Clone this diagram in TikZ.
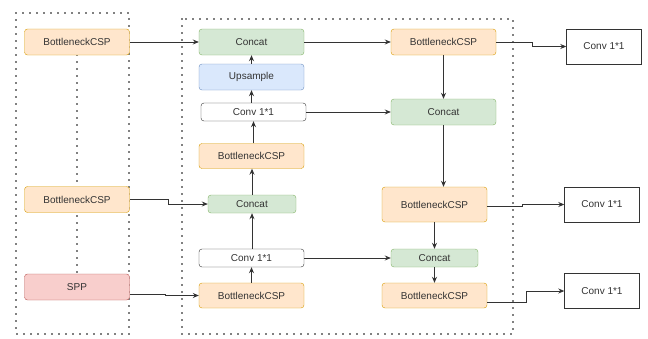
\documentclass[tikz,border=0pt]{standalone}
\usepackage{fontspec}
\setmainfont{Liberation Sans}
\usetikzlibrary{arrows.meta}
\definecolor{cspfill}{HTML}{FFE6CC}\definecolor{cspline}{HTML}{D79B00}
\definecolor{catfill}{HTML}{D5E8D4}\definecolor{catline}{HTML}{82B366}
\definecolor{upfill}{HTML}{DAE8FC}\definecolor{upline}{HTML}{6C8EBF}
\definecolor{sppfill}{HTML}{F8CECC}\definecolor{sppline}{HTML}{B85450}
\definecolor{ink}{HTML}{333333}

\begin{document}
\begin{tikzpicture}
  [x=1pt, y=-1pt, >={Stealth[length=6pt,width=5pt]},
   every node/.style={draw, rounded corners=3pt, inner sep=0pt, text=ink,
                      font=\fontsize{10}{12}\selectfont, minimum width=105pt, minimum height=26pt},
   csp/.style={fill=cspfill, draw=cspline},
   concat/.style={fill=catfill, draw=catline},
   upsample/.style={fill=upfill, draw=upline},
   sppbox/.style={fill=sppfill, draw=sppline},
   convbox/.style={fill=white, draw=ink, minimum height=18pt},
   outbox/.style={fill=white, draw=ink, rounded corners=0pt, minimum width=75pt, minimum height=35pt},
   arr/.style={->, draw=ink, line width=0.8pt},
   dotbox/.style={draw=black, line width=1.8pt, line cap=round, dash pattern=on 0pt off 7pt}]
  \useasboundingbox (0,0) rectangle (648,338);
  % dotted groups
  \draw[dotbox] (16,13) rectangle (129,334);
  \draw[dotbox] (182,19) rectangle (513,334);
  \draw[dotbox] (77,55) -- (77,274);
  % backbone
  \node[csp] (lcsp1) at (77,42) {BottleneckCSP};
  \node[csp] (lcsp2) at (77,199.5) {BottleneckCSP};
  \node[sppbox] (spp) at (77,287) {SPP};
  % top-down path
  \node[concat] (cat1) at (251.5,42) {Concat};
  \node[upsample] (ups) at (251.5,77) {Upsample};
  \node[convbox] (conv1) at (253.5,112) {Conv 1*1};
  \node[csp, minimum height=25pt] (csp1) at (251.5,156) {BottleneckCSP};
  \node[concat, minimum width=88pt, minimum height=18pt] (cat2) at (252,204) {Concat};
  \node[convbox] (conv2) at (251.5,258) {Conv 1*1};
  \node[csp, minimum height=25pt] (csp2) at (251.5,295.5) {BottleneckCSP};
  % bottom-up path
  \node[csp] (rcsp1) at (443.5,42) {BottleneckCSP};
  \node[concat] (rcat1) at (443.5,112) {Concat};
  \node[csp, minimum height=35pt] (rcsp2) at (434.5,204.5) {BottleneckCSP};
  \node[concat, minimum width=87pt, minimum height=18pt] (rcat2) at (434.5,258) {Concat};
  \node[csp, minimum height=25pt] (rcsp3) at (434.5,295.5) {BottleneckCSP};
  % outputs
  \node[outbox] (out1) at (604,46.5) {Conv 1*1};
  \node[outbox] (out2) at (602,204.5) {Conv 1*1};
  \node[outbox] (out3) at (602,291) {Conv 1*1};

  \draw[arr] (lcsp1.east) -- (cat1.west);
  \draw[arr] (lcsp2.east) -- ++(39,0) |- (cat2.west);
  \draw[arr] ([yshift=-7pt]spp.east) -- ++(36,0) |- (csp2.west);
  \draw[arr] (ups.north) -- (cat1.south);
  \draw[arr] (conv1.north -| ups) -- (ups.south);
  \draw[arr] (csp1.north -| conv1) -- (conv1.south);
  \draw[arr] (cat2.north) -- (csp1.south -| cat2);
  \draw[arr] (conv2.north -| cat2) -- (cat2.south);
  \draw[arr] (csp2.north) -- (conv2.south);
  \draw[arr] (cat1.east) -- (rcsp1.west);
  \draw[arr] (conv1.east) -- (rcat1.west);
  \draw[arr] (conv2.east) -- (rcat2.west);
  \draw[arr] (rcsp1.south) -- (rcat1.north);
  \draw[arr] (rcat1.south) -- (rcat1.south |- rcsp2.north);
  \draw[arr] (rcsp2.south) -- (rcat2.north);
  \draw[arr] (rcat2.south) -- (rcsp3.north);
  \draw[arr] (rcsp1.east) -- ++(36,0) |- (out1.west);
  \draw[arr] ([yshift=-1.5pt]rcsp2.east) -- ++(35,0) |- (out2.west);
  \draw[arr] ([yshift=-7pt]rcsp3.east) -- ++(39,0) |- (out3.west);
\end{tikzpicture}
\end{document}
